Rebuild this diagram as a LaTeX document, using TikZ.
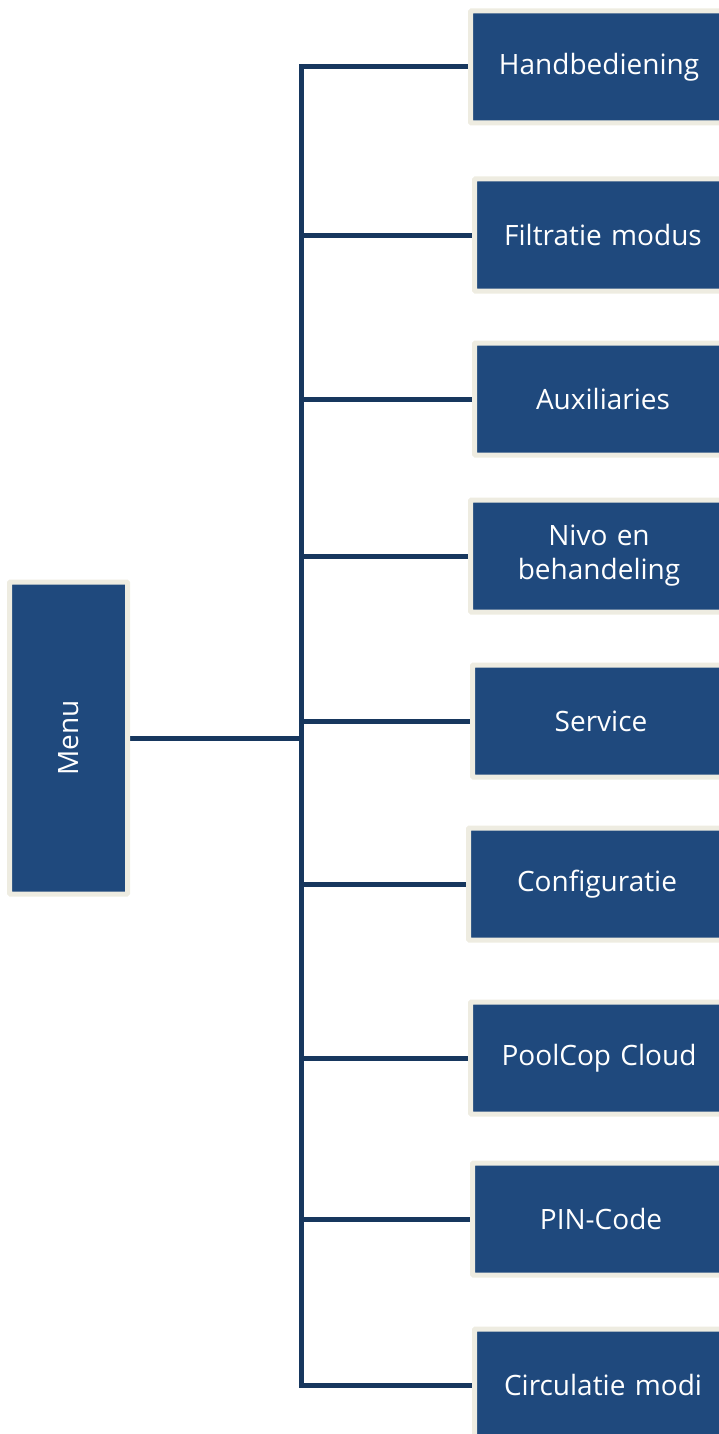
\documentclass[tikz,border=0pt]{standalone}
\usepackage{fontspec}
\setmainfont{Open Sans}
\usepackage{tikz}
\usetikzlibrary{positioning, backgrounds}
\definecolor{boxblue}{HTML}{1F497D}
\definecolor{boxrim}{HTML}{EEECE1}
\definecolor{linkblue}{HTML}{17375E}

\begin{document}
\begin{tikzpicture}[
  x=1pt, y=-1pt,
  font=\fontsize{28}{34}\selectfont,
  m/.style={draw=boxrim, line width=5pt, rounded corners=1pt, fill=boxblue,
            text=white, minimum width=118pt, minimum height=312pt, inner sep=0pt},
  k/.style={draw=boxrim, line width=5pt, rounded corners=1pt, fill=boxblue,
            text=white, align=center, minimum width=257pt, minimum height=112pt,
            inner sep=0pt, text width=240pt},
  l/.style={draw=linkblue, line width=5pt}
]
\clip (0,0) rectangle (719,1434);

% ---- root ----
\node[m] (menu) at (68.5,738) {\rotatebox{90}{Menu}};

% ---- menu items, top -> bottom ----
\node[k] (hand)  at (599,67)   {Handbediening};
\node[k] (filt)  at (603,235)  {Filtratie modus};
\node[k] (aux)   at (603,399)  {Auxiliaries};
\node[k] (nivo)  at (599,556)  {Nivo en\\behandeling};
\node[k] (serv)  at (601,721)  {Service};
\node[k] (conf)  at (597,884)  {Configuratie};
\node[k] (cloud) at (599,1058) {PoolCop Cloud};
\node[k] (pin)   at (601,1219) {PIN-Code};
\node[k] (circ)  at (603,1385) {Circulatie modi};

% ---- tree lines ----
\path (menu.east) ++(171.5,0) coordinate (trunk);
\begin{scope}[on background layer]
  \draw[l] (menu.east) -- (trunk);
  \foreach \n in {hand,filt,aux,nivo,serv,conf,cloud,pin,circ}
    \draw[l] (trunk) |- (\n.west);
\end{scope}

\end{tikzpicture}
\end{document}
